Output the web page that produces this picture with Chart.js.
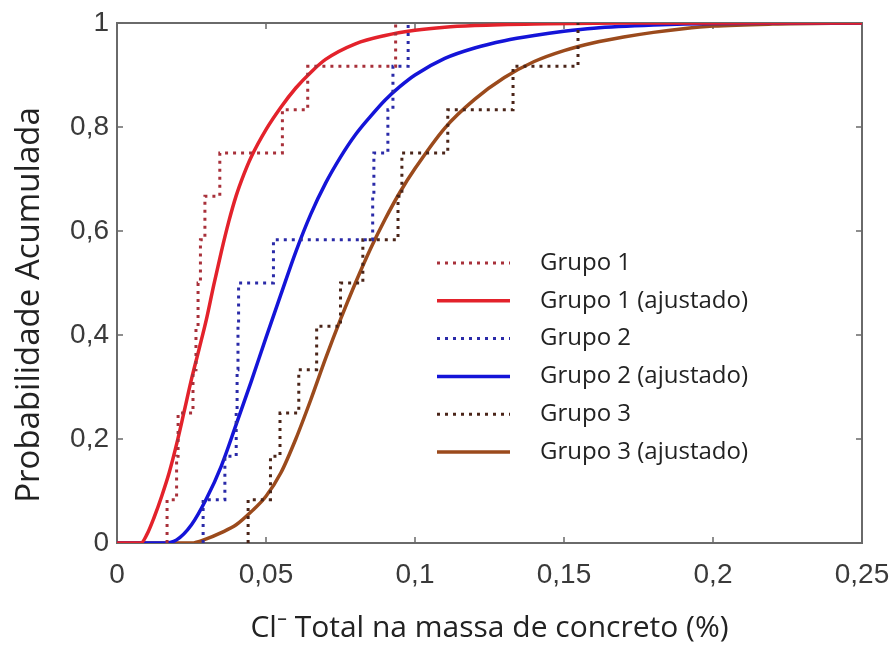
<!DOCTYPE html>
<html>
<head>
<meta charset="utf-8">
<script src="https://cdn.jsdelivr.net/npm/chart.js@4.4.1/dist/chart.umd.min.js"></script>
<style>
  html, body { margin: 0; padding: 0; background: #fff; }
  canvas { display: block; }
</style>
</head>
<body>
<canvas id="chart" width="895" height="646"></canvas>
<script>
// niveis da distribuicao empirica (12 amostras por grupo)
const stepLevels = [0, 1/12, 2/12, 3/12, 4/12, 5/12, 6/12, 7/12, 8/12, 9/12, 10/12, 11/12, 1];

// amostras ordenadas (% Cl- na massa de concreto)
const grupo1 = [0.0168, 0.0200, 0.0205, 0.0255, 0.0265, 0.0272, 0.0280, 0.0295, 0.0345, 0.0555, 0.0640, 0.0935];
const grupo2 = [0.0289, 0.0362, 0.0400, 0.0403, 0.0406, 0.0408, 0.0525, 0.0858, 0.0862, 0.0909, 0.0926, 0.0977];
const grupo3 = [0.0440, 0.0515, 0.0547, 0.0610, 0.0670, 0.0750, 0.0825, 0.0943, 0.0956, 0.1110, 0.1329, 0.1547];

// curvas ajustadas
const fitX1 = [0, 0.008, 0.01, 0.0125, 0.015, 0.0175, 0.02, 0.0225, 0.025, 0.0275, 0.03, 0.0325, 0.035, 0.0375, 0.04, 0.0425, 0.045, 0.05, 0.055, 0.06, 0.065, 0.07, 0.08, 0.09, 0.1, 0.11, 0.12, 0.14, 0.17, 0.25];
const fitP1 = [0, 0, 0.016, 0.05, 0.09, 0.135, 0.19, 0.252, 0.315, 0.372, 0.43, 0.497, 0.56, 0.618, 0.668, 0.708, 0.742, 0.795, 0.838, 0.875, 0.905, 0.93, 0.96, 0.976, 0.986, 0.992, 0.995, 0.998, 1, 1];

const fitX2 = [0, 0.015, 0.02, 0.025, 0.03, 0.035, 0.04, 0.045, 0.05, 0.055, 0.06, 0.065, 0.07, 0.075, 0.08, 0.085, 0.09, 0.095, 0.1, 0.11, 0.12, 0.13, 0.14, 0.15, 0.16, 0.18, 0.2, 0.25];
const fitP2 = [0, 0, 0.006, 0.035, 0.085, 0.148, 0.228, 0.31, 0.395, 0.478, 0.56, 0.632, 0.692, 0.742, 0.785, 0.82, 0.852, 0.878, 0.9, 0.932, 0.952, 0.966, 0.976, 0.984, 0.99, 0.996, 0.999, 1];

const fitX3 = [0, 0.025, 0.03, 0.035, 0.04, 0.045, 0.05, 0.055, 0.06, 0.065, 0.07, 0.075, 0.08, 0.085, 0.09, 0.095, 0.1, 0.11, 0.12, 0.13, 0.14, 0.15, 0.16, 0.17, 0.18, 0.19, 0.2, 0.22, 0.25];
const fitP3 = [0, 0, 0.008, 0.02, 0.035, 0.06, 0.09, 0.135, 0.2, 0.275, 0.355, 0.43, 0.5, 0.565, 0.623, 0.675, 0.72, 0.798, 0.853, 0.895, 0.926, 0.947, 0.962, 0.973, 0.982, 0.989, 0.994, 0.998, 1];

const xTicks = [0, 0.05, 0.1, 0.15, 0.2, 0.25];
const yTicks = [0, 0.2, 0.4, 0.6, 0.8, 1];

function stairs(samples) {
  return [{ x: samples[0], y: stepLevels[0] }].concat(
    samples.map((x, i) => ({ x, y: stepLevels[i + 1] }))
  );
}

function curve(xs, ps) {
  return xs.map((x, i) => ({ x, y: ps[i] }));
}

function commaLabel(value) {
  return String(Number(value.toFixed(2))).replace(".", ",");
}

const dotted = (label, samples, color) => ({
  label,
  data: stairs(samples),
  borderColor: color,
  borderWidth: 3,
  borderDash: [3, 5],
  stepped: "before",
  pointRadius: 0,
  order: 0,
});

const fitted = (label, xs, ps, color) => ({
  label,
  data: curve(xs, ps),
  borderColor: color,
  borderWidth: 3.5,
  cubicInterpolationMode: "monotone",
  pointRadius: 0,
  order: 1,
});

const framePlugin = {
  id: "frame",
  beforeDatasetsDraw(chart) {
    const { ctx, chartArea: a, scales } = chart;
    ctx.save();
    ctx.strokeStyle = "#6a6a6a";
    ctx.lineWidth = 2;
    ctx.strokeRect(a.left, a.top, a.right - a.left, a.bottom - a.top);
    ctx.lineWidth = 1.5;
    ctx.beginPath();
    xTicks.forEach((v) => {
      const px = scales.x.getPixelForValue(v);
      ctx.moveTo(px, a.bottom); ctx.lineTo(px, a.bottom - 6);
      ctx.moveTo(px, a.top); ctx.lineTo(px, a.top + 6);
    });
    yTicks.forEach((v) => {
      const py = scales.y.getPixelForValue(v);
      ctx.moveTo(a.left, py); ctx.lineTo(a.left + 6, py);
      ctx.moveTo(a.right, py); ctx.lineTo(a.right - 6, py);
    });
    ctx.stroke();

    // titulo do eixo y, um pouco abaixo do centro como no original
    ctx.fillStyle = "#222";
    ctx.font = "33px 'Open Sans'";
    ctx.textAlign = "center";
    ctx.textBaseline = "middle";
    ctx.translate(30, (a.top + a.bottom) / 2 + 22);
    ctx.rotate(-Math.PI / 2);
    ctx.fillText("Probabilidade Acumulada", 0, 0);
    ctx.restore();
  },
};

const legendPlugin = {
  id: "insideLegend",
  afterDraw(chart) {
    const { ctx, chartArea: a } = chart;
    const x0 = a.left + 320;
    const y0 = a.top + 240;
    const rowH = 37.8;
    ctx.save();
    chart.data.datasets.forEach((ds, i) => {
      const y = y0 + i * rowH;
      ctx.strokeStyle = ds.borderColor;
      ctx.lineWidth = ds.borderWidth;
      ctx.setLineDash(ds.borderDash || []);
      ctx.beginPath();
      ctx.moveTo(x0, y);
      ctx.lineTo(x0 + 73, y);
      ctx.stroke();
      ctx.setLineDash([]);
      ctx.fillStyle = "#222";
      ctx.font = "24px 'Open Sans'";
      ctx.textBaseline = "middle";
      ctx.fillText(ds.label, x0 + 103, y);
    });
    ctx.restore();
  },
};

new Chart(document.getElementById("chart"), {
  type: "line",
  data: {
    datasets: [
      dotted("Grupo 1", grupo1, "#a8303a"),
      fitted("Grupo 1 (ajustado)", fitX1, fitP1, "#e3222b"),
      dotted("Grupo 2", grupo2, "#2a2aa8"),
      fitted("Grupo 2 (ajustado)", fitX2, fitP2, "#1414d8"),
      dotted("Grupo 3", grupo3, "#4a2418"),
      fitted("Grupo 3 (ajustado)", fitX3, fitP3, "#9b4a1c"),
    ],
  },
  options: {
    responsive: false,
    animation: false,
    devicePixelRatio: 1,
    layout: { padding: { top: 23, right: 33, left: 0, bottom: 0 } },
    plugins: { legend: { display: false }, tooltip: { enabled: false } },
    scales: {
      x: {
        type: "linear",
        min: 0,
        max: 0.25,
        afterFit: (scale) => {
          scale.height = 103;
          scale.paddingLeft = 0;
          scale.paddingRight = 0;
        },
        afterBuildTicks: (scale) => { scale.ticks = xTicks.map((value) => ({ value })); },
        grid: { display: false, drawTicks: false },
        border: { display: false },
        ticks: {
          padding: 15,
          color: "#3a3a3a",
          font: { family: "'Liberation Sans Narrow', 'Liberation Sans'", size: 28 },
          callback: (v) => commaLabel(v),
        },
        title: {
          display: true,
          text: "Cl⁻ Total na massa de concreto (%)",
          color: "#222",
          font: { family: "'Open Sans'", size: 30, lineHeight: 1.2 },
          padding: { top: 0, bottom: 0 },
        },
      },
      y: {
        min: 0,
        max: 1,
        afterFit: (scale) => {
          scale.width = 117;
          scale.paddingTop = 0;
          scale.paddingBottom = 0;
        },
        afterBuildTicks: (scale) => { scale.ticks = yTicks.map((value) => ({ value })); },
        grid: { display: false, drawTicks: false },
        border: { display: false },
        ticks: {
          padding: 8,
          color: "#3a3a3a",
          font: { family: "'Liberation Sans Narrow', 'Liberation Sans'", size: 28 },
          callback: (v) => commaLabel(v),
        },
      },
    },
  },
  plugins: [framePlugin, legendPlugin],
});
</script>
</body>
</html>
